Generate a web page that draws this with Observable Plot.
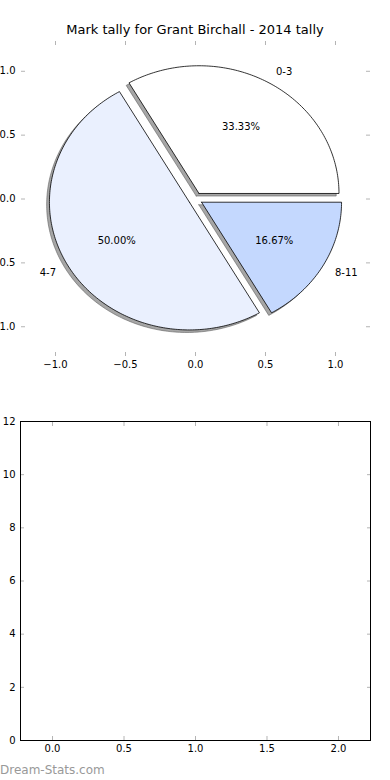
<!DOCTYPE html>
<html>
<head>
<meta charset="utf-8">
<script src="https://cdn.jsdelivr.net/npm/d3@7"></script>
<script src="https://cdn.jsdelivr.net/npm/@observablehq/plot@0.6"></script>
<style>
  body { margin: 0; background: #fff; font-family: "DejaVu Sans", sans-serif; }
  #wrap { position: relative; width: 390px; height: 780px; overflow: hidden; background: #fff; }
  #top { position: absolute; left: 0; top: 0; }
  #bottom { position: absolute; left: 0; top: 390px; }
  #title { position: absolute; left: 0; width: 390px; top: 21px; text-align: center; font-size: 13px; line-height: 18px; color: #000; }
  #wm { position: absolute; left: 0; top: 762px; font-size: 12px; line-height: 16px; color: #999; }
</style>
</head>
<body>
<div id="wrap">
  <div id="top"></div>
  <div id="bottom"></div>
  <div id="title"></div>
  <div id="wm"></div>
</div>
<script>
// ---- data ----
const chartTitle = "Mark tally for Grant Birchall - 2014 tally";
const watermark = "Dream-Stats.com";
const categories = ["0-3", "4-7", "8-11"];
const counts = [2, 3, 1];
const sliceColors = ["#ffffff", "#eaf0fe", "#c4d8fe"];
const explode = [0.05, 0.05, 0.05];
const pieTicks = [-1, -0.5, 0, 0.5, 1];
const emptyXTicks = [0, 0.5, 1, 1.5, 2];
const emptyYTicks = [0, 2, 4, 6, 8, 10, 12];

document.getElementById("title").textContent = chartTitle;
document.getElementById("wm").textContent = watermark;

// ---- pie geometry (matplotlib style: start 0°, counter-clockwise) ----
const total = d3.sum(counts);
let acc = 0;
const slices = categories.map((c, i) => {
  const a0 = acc / total * 2 * Math.PI;
  acc += counts[i];
  const a1 = acc / total * 2 * Math.PI;
  const am = (a0 + a1) / 2;
  return {
    cat: c, i, a0, a1, am,
    ox: explode[i] * Math.cos(am),
    oy: explode[i] * Math.sin(am),
    pct: counts[i] / total * 100,
    color: sliceColors[i]
  };
});

function ring(s, dx, dy) {
  const pts = [{k: s.cat, color: s.color, x: s.ox + dx, y: s.oy + dy}];
  const n = Math.max(4, Math.ceil((s.a1 - s.a0) / (Math.PI / 180)));
  for (let j = 0; j <= n; j++) {
    const t = s.a0 + (s.a1 - s.a0) * j / n;
    pts.push({k: s.cat, color: s.color, x: s.ox + dx + Math.cos(t), y: s.oy + dy + Math.sin(t)});
  }
  pts.push({...pts[0]});
  return pts;
}
const sliceRows = slices.flatMap(s => ring(s, 0, 0));
const shadowRows = slices.flatMap(s => ring(s, -0.02, -0.02));

const outerLabels = slices.map(s => ({
  x: s.ox + 1.1 * Math.cos(s.am),
  y: s.oy + 1.1 * Math.sin(s.am),
  text: s.cat
}));
const pctLabels = slices.map(s => ({
  x: s.ox + 0.6 * Math.cos(s.am),
  y: s.oy + 0.6 * Math.sin(s.am),
  text: s.pct.toFixed(2) + "%"
}));

const fmt1 = d3.format(".1f");
const blank = () => "";
const tickGray = "#b4b4b4";

const topPlot = Plot.plot({
  width: 390, height: 390,
  marginTop: 40, marginBottom: 34, marginLeft: 21, marginRight: 21,
  style: {fontFamily: "DejaVu Sans", fontSize: "10px", background: "transparent", color: "black"},
  x: {domain: [-1.2429, 1.2429], label: null},
  y: {domain: [-1.233, 1.241], label: null},
  marks: [
    Plot.line(shadowRows, {x: "x", y: "y", z: "k", fill: "#4d4d4d", fillOpacity: 0.5, stroke: "#4d4d4d", strokeOpacity: 0.5, strokeWidth: 1, curve: "linear"}),
    Plot.line(sliceRows, {x: "x", y: "y", z: "k", fill: d => d.color, stroke: "black", strokeWidth: 0.8, curve: "linear"}),
    Plot.text(outerLabels.filter(d => d.x > 0), {x: "x", y: "y", text: "text", textAnchor: "start", fontSize: 10, fill: "black"}),
    Plot.text(outerLabels.filter(d => d.x <= 0), {x: "x", y: "y", text: "text", textAnchor: "end", fontSize: 10, fill: "black"}),
    Plot.text(pctLabels, {x: "x", y: "y", text: "text", textAnchor: "middle", fontSize: 10, fill: "black"}),
    // labels
    Plot.axisX(pieTicks, {anchor: "bottom", tickSize: 0, tickPadding: 4, tickFormat: fmt1, label: null}),
    Plot.axisY(pieTicks, {anchor: "left", tickSize: 0, tickPadding: 6, tickFormat: fmt1, label: null}),
    // inward gray ticks on all four sides
    Plot.axisX(pieTicks, {anchor: "bottom", tickSize: 4, dy: -4, stroke: tickGray, tickFormat: blank, label: null}),
    Plot.axisX(pieTicks, {anchor: "top", tickSize: 4, dy: 4, stroke: tickGray, tickFormat: blank, label: null}),
    Plot.axisY(pieTicks, {anchor: "left", tickSize: 4, dx: 4, stroke: tickGray, tickFormat: blank, label: null}),
    Plot.axisY(pieTicks, {anchor: "right", tickSize: 4, dx: -4, stroke: tickGray, tickFormat: blank, label: null})
  ]
});
document.getElementById("top").appendChild(topPlot);

const bottomPlot = Plot.plot({
  width: 390, height: 390,
  marginTop: 31, marginBottom: 40, marginLeft: 20, marginRight: 20,
  style: {fontFamily: "DejaVu Sans", fontSize: "10px", background: "transparent", color: "black"},
  x: {domain: [-0.224, 2.224], label: null},
  y: {domain: [0, 12], label: null},
  marks: [
    Plot.axisX(emptyXTicks, {anchor: "bottom", tickSize: 0, tickPadding: 4, tickFormat: fmt1, label: null}),
    Plot.axisY(emptyYTicks, {anchor: "left", tickSize: 0, tickPadding: 5, tickFormat: d3.format("d"), label: null}),
    Plot.axisX(emptyXTicks, {anchor: "bottom", tickSize: 4, dy: -4, stroke: tickGray, tickFormat: blank, label: null}),
    Plot.axisX(emptyXTicks, {anchor: "top", tickSize: 4, dy: 4, stroke: tickGray, tickFormat: blank, label: null}),
    Plot.axisY(emptyYTicks, {anchor: "left", tickSize: 4, dx: 4, stroke: tickGray, tickFormat: blank, label: null}),
    Plot.axisY(emptyYTicks, {anchor: "right", tickSize: 4, dx: -4, stroke: tickGray, tickFormat: blank, label: null}),
    Plot.frame({stroke: "black", strokeWidth: 1})
  ]
});
document.getElementById("bottom").appendChild(bottomPlot);
</script>
</body>
</html>
